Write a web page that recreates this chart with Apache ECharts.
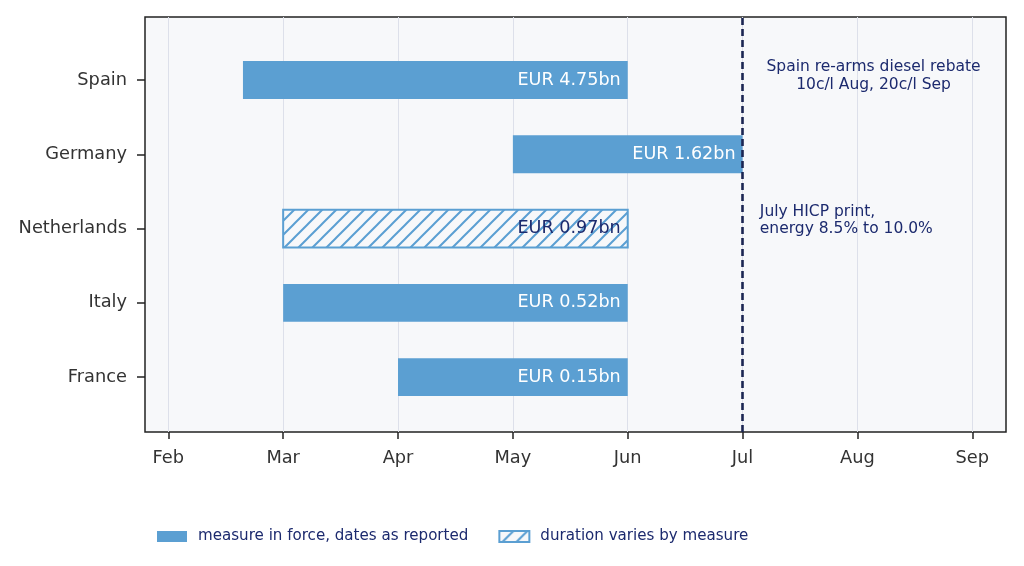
<!DOCTYPE html>
<html>
<head>
<meta charset="utf-8">
<script src="https://cdn.jsdelivr.net/npm/echarts@6/dist/echarts.min.js"></script>
<style>
html, body { margin: 0; padding: 0; background: #fff; }
#chart { width: 1024px; height: 566px; }
</style>
</head>
<body>
<div id="chart"></div>
<script>
// categories, top to bottom
var countries = ['Spain', 'Germany', 'Netherlands', 'Italy', 'France'];
// months as numbers (Feb = 2)
var startMonth = [2.65, 5, 3, 3, 4];
var endMonth = [6, 7, 6, 6, 6];
var amounts = ['EUR 4.75bn', 'EUR 1.62bn', 'EUR 0.97bn', 'EUR 0.52bn', 'EUR 0.15bn'];
var hatched = [false, false, true, false, false];
var monthNames = ['Jan', 'Feb', 'Mar', 'Apr', 'May', 'Jun', 'Jul', 'Aug', 'Sep', 'Oct'];
var eventMonth = 7;
var notes = [
	{ x: 8.14, country: 'Spain', text: 'Spain re-arms diesel rebate\n10c/l Aug, 20c/l Sep', align: 'center', dy: -4 },
	{ x: 7.15, country: 'Netherlands', text: 'July HICP print,\nenergy 8.5% to 10.0%', align: 'left', dy: -8 }
];

var BLUE = '#5b9fd2';
var NAVY = '#1c2a6e';
var BG = '#f7f8fa';
var FONT = 'DejaVu Sans';

// hatch pattern for the "duration varies" bars
var hatch = document.createElement('canvas');
hatch.width = 14; hatch.height = 14;
var hc = hatch.getContext('2d');
hc.fillStyle = BG;
hc.fillRect(0, 0, 14, 14);
hc.strokeStyle = BLUE;
hc.lineWidth = 2;
hc.beginPath();
hc.moveTo(-2, 16); hc.lineTo(16, -2);
hc.moveTo(-9, 9); hc.lineTo(9, -9);
hc.moveTo(5, 23); hc.lineTo(23, 5);
hc.stroke();
var hatchFill = { image: hatch, repeat: 'repeat' };

var solidData = [], hatchData = [];
for (var i = 0; i < countries.length; i++) {
	var row = [startMonth[i], endMonth[i], i, amounts[i]];
	if (hatched[i]) hatchData.push(row); else solidData.push(row);
}

var makeBar = function(isHatch) {
	return function(params, api) {
		var a = api.coord([api.value(0), api.value(2)]);
		var b = api.coord([api.value(1), api.value(2)]);
		var h = api.size([0, 1])[1] * 0.51;
		var label = amounts[api.value(2)];
		return {
			type: 'group',
			children: [{
				type: 'rect',
				shape: { x: a[0], y: a[1] - h / 2, width: b[0] - a[0], height: h },
				style: isHatch
					? { fill: hatchFill, stroke: BLUE, lineWidth: 2 }
					: { fill: BLUE }
			}, {
				type: 'text',
				style: {
					text: label, x: b[0] - 7, y: a[1],
					align: 'right', verticalAlign: 'middle',
					fill: isHatch ? NAVY : '#ffffff',
					font: '17.6px "' + FONT + '"'
				}
			}]
		};
	};
};

var chart = echarts.init(document.getElementById('chart'));
var option = {
	animation: false,
	textStyle: { fontFamily: FONT },
	grid: [
		// frame
		{ left: 145, right: 18, top: 17, bottom: 134, show: true, backgroundColor: BG, borderColor: '#222', borderWidth: 1.5 },
		// month axis (Feb..Sep)
		{ left: 168.3, right: 51.7, top: 17, bottom: 134 },
		// country bands
		{ left: 168.3, right: 51.7, top: 42.85, bottom: 151.7 }
	],
	xAxis: [
		{ gridIndex: 0, type: 'value', min: 0, max: 1, show: false },
		{
			gridIndex: 1, type: 'value', min: 2, max: 9, interval: 1,
			axisLine: { show: false },
			axisTick: { show: true, length: 7, lineStyle: { color: '#222', width: 1.5 } },
			axisLabel: { margin: 17, fontSize: 17.8, color: '#333', fontFamily: FONT,
				formatter: function(v) { return monthNames[v - 1]; } },
			splitLine: { show: true, lineStyle: { color: '#dde0ea', width: 1 } }
		},
		{ gridIndex: 2, type: 'value', min: 2, max: 9, show: false }
	],
	yAxis: [
		{ gridIndex: 0, type: 'value', min: 0, max: 1, show: false },
		{ gridIndex: 1, type: 'value', min: 0, max: 1, show: false },
		{
			gridIndex: 2, type: 'category', data: countries, inverse: true, offset: 23.3,
			axisLine: { show: false },
			axisTick: { show: true, alignWithLabel: true, length: 8, lineStyle: { color: '#222', width: 1.5 } },
			axisLabel: { margin: 18, fontSize: 17.8, color: '#333', fontFamily: FONT },
			splitLine: { show: false }
		}
	],
	legend: {
		bottom: 17, left: 152,
		icon: 'rect',
		itemWidth: 30, itemHeight: 11, itemGap: 30,
		textStyle: { color: NAVY, fontSize: 15.1, fontFamily: FONT, padding: [0, 0, 0, 6] },
		data: ['measure in force, dates as reported', 'duration varies by measure']
	},
	series: [
		{
			name: 'measure in force, dates as reported',
			type: 'custom', xAxisIndex: 2, yAxisIndex: 2,
			itemStyle: { color: BLUE },
			renderItem: makeBar(false),
			data: solidData, z: 3
		},
		{
			name: 'duration varies by measure',
			type: 'custom', xAxisIndex: 2, yAxisIndex: 2,
			itemStyle: { color: hatchFill, borderColor: BLUE, borderWidth: 2 },
			renderItem: makeBar(true),
			data: hatchData, z: 3
		},
		{
			type: 'line', xAxisIndex: 1, yAxisIndex: 1, data: [], z: 5,
			markLine: {
				silent: true, symbol: 'none', label: { show: false },
				lineStyle: { color: '#1b2653', width: 2.6, type: [7, 4] },
				data: [{ xAxis: eventMonth }]
			}
		},
		{
			type: 'custom', xAxisIndex: 2, yAxisIndex: 2, z: 4, clip: false,
			renderItem: function(params, api) {
				var n = notes[params.dataIndex];
				var p = api.coord([n.x, countries.indexOf(n.country)]);
				return {
					type: 'text',
					style: {
						text: n.text, x: p[0], y: p[1] + n.dy,
						align: n.align, verticalAlign: 'middle',
						fill: NAVY, font: '15.5px "' + FONT + '"', lineHeight: 17.5
					}
				};
			},
			data: notes.map(function(n, k) { return [n.x, k]; })
		}
	]
};
chart.setOption(option);
</script>
</body>
</html>
